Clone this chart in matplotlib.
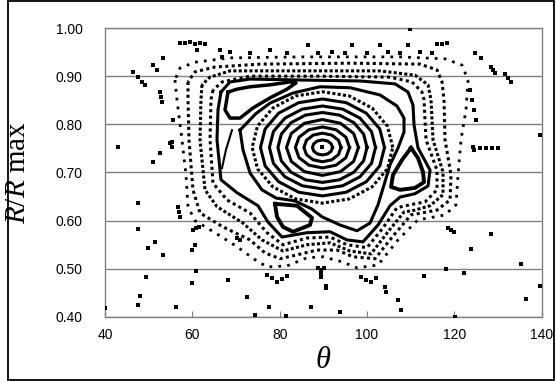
import matplotlib
matplotlib.use("Agg")
import matplotlib.pyplot as plt
from matplotlib.patches import Rectangle

# ---- data: (theta, R/Rmax) ----
centre = (89.8, 0.752)
ring_1 = [(92.1, 0.752), (91.79, 0.7598), (90.95, 0.7655), (89.8, 0.7676), (88.65, 0.7655), (87.81, 0.7598),
          (87.5, 0.752), (87.81, 0.7442), (88.65, 0.7385), (89.8, 0.7364), (90.95, 0.7385), (91.79, 0.7442)]
ring_2 = [(94.04, 0.752), (93.47, 0.7669), (91.92, 0.7777), (89.8, 0.7817), (87.68, 0.7777), (86.13, 0.7669),
          (85.56, 0.752), (86.13, 0.7371), (87.68, 0.7263), (89.8, 0.7223), (91.92, 0.7263), (93.47, 0.7371)]
ring_3 = [(96.0, 0.752), (95.17, 0.7733), (92.9, 0.7888), (89.8, 0.7945), (86.7, 0.7888), (84.43, 0.7733),
          (83.6, 0.752), (84.43, 0.7307), (86.7, 0.7152), (89.8, 0.7095), (92.9, 0.7152), (95.17, 0.7307)]
ring_4 = [(98.04, 0.752), (96.94, 0.781), (93.92, 0.8022), (89.8, 0.81), (85.68, 0.8022), (82.66, 0.781),
          (81.56, 0.752), (82.66, 0.723), (85.68, 0.7018), (89.8, 0.694), (93.92, 0.7018), (96.94, 0.723)]
ring_5 = [(100.0, 0.752), (99.22, 0.7798), (97.01, 0.8033), (93.71, 0.8191), (89.8, 0.8246), (85.89, 0.8191),
          (82.59, 0.8033), (80.38, 0.7798), (79.6, 0.752), (80.38, 0.7242), (82.59, 0.7007), (85.89, 0.6849),
          (89.8, 0.6794), (93.71, 0.6849), (97.01, 0.7007), (99.22, 0.7242)]
ring_6 = [(101.95, 0.752), (101.03, 0.785), (98.39, 0.8129), (94.45, 0.8315), (89.8, 0.8381), (85.15, 0.8315),
          (81.21, 0.8129), (78.57, 0.785), (77.65, 0.752), (78.57, 0.719), (81.21, 0.6911), (85.15, 0.6725),
          (89.8, 0.6659), (94.45, 0.6725), (98.39, 0.6911), (101.03, 0.719)]
ring_7 = [(104.0, 0.752), (102.92, 0.7905), (99.84, 0.8231), (95.24, 0.845), (89.8, 0.8526), (84.36, 0.845),
          (79.76, 0.8231), (76.68, 0.7905), (75.6, 0.752), (76.68, 0.7135), (79.76, 0.6809), (84.36, 0.659),
          (89.8, 0.6514), (95.24, 0.659), (99.84, 0.6809), (102.92, 0.7135)]
ring_8 = [(105.9, 0.752), (104.68, 0.7962), (101.18, 0.8337), (95.96, 0.8588), (89.8, 0.8676), (83.64, 0.8588),
          (78.42, 0.8337), (74.92, 0.7962), (73.7, 0.752), (74.92, 0.7078), (78.42, 0.6703), (83.64, 0.6452),
          (89.8, 0.6364), (95.96, 0.6452), (101.18, 0.6703), (104.68, 0.7078)]
core_edge = [(70.92, 0.788), (71.6, 0.747), (73.21, 0.699), (75.95, 0.664), (79.16, 0.647), (83.51, 0.641),
             (87.4, 0.624), (89.69, 0.608), (93.82, 0.591), (97.71, 0.579), (100.69, 0.595), (102.52, 0.633),
             (103.89, 0.674), (105.27, 0.716), (107.1, 0.751), (108.47, 0.784), (108.47, 0.813), (106.87, 0.838),
             (102.98, 0.861), (96.11, 0.876), (89.24, 0.878), (83.05, 0.865), (77.79, 0.844), (74.53, 0.822)]

island_top = [(68.17, 0.867), (67.48, 0.830), (68.63, 0.813), (70.92, 0.813), (73.89, 0.834), (77.79, 0.855),
              (81.68, 0.873), (83.74, 0.886), (82.37, 0.888), (77.79, 0.882), (73.21, 0.878), (70.23, 0.873)]
island_right = [(110.07, 0.751), (111.68, 0.730), (112.82, 0.701), (113.05, 0.680), (110.99, 0.668),
                (107.56, 0.664), (105.5, 0.670), (105.95, 0.695), (108.01, 0.726)]
island_low = [(78.93, 0.635), (83.97, 0.631), (87.4, 0.606), (86.95, 0.591), (83.05, 0.577), (80.76, 0.587),
              (79.39, 0.608)]
sep_leg = [(69.08, 0.788), (67.7, 0.747), (66.79, 0.709)]

band_1 = [(56.03, 0.892), (56.49, 0.851), (57.63, 0.768), (58.55, 0.695), (59.01, 0.629), (60.61, 0.600),
          (65.19, 0.575), (70.23, 0.546), (74.35, 0.519), (77.1, 0.504), (81.68, 0.506), (86.26, 0.523),
          (89.92, 0.525), (94.5, 0.514), (97.71, 0.502), (102.52, 0.508), (107.1, 0.560), (111.68, 0.602),
          (114.43, 0.606), (117.86, 0.612), (120.38, 0.633), (120.84, 0.695), (121.52, 0.768), (122.67, 0.830),
          (123.13, 0.892), (121.75, 0.923), (117.86, 0.936), (107.56, 0.940), (84.66, 0.940), (68.63, 0.938),
          (60.61, 0.929), (57.18, 0.917)]
band_2 = [(59.01, 0.888), (59.01, 0.851), (59.24, 0.768), (60.15, 0.664), (61.76, 0.616), (67.02, 0.587),
          (73.21, 0.560), (76.64, 0.533), (80.08, 0.521), (83.97, 0.529), (88.55, 0.539), (93.13, 0.539),
          (96.79, 0.525), (101.83, 0.521), (105.95, 0.568), (110.07, 0.612), (112.59, 0.616), (116.03, 0.622),
          (119.01, 0.643), (119.23, 0.695), (117.86, 0.768), (117.63, 0.851), (117.17, 0.888), (116.03, 0.913),
          (112.14, 0.925), (96.11, 0.927), (75.49, 0.925), (65.19, 0.919), (60.61, 0.909)]
band_3 = [(62.21, 0.882), (61.98, 0.851), (61.76, 0.768), (62.9, 0.664), (65.65, 0.629), (71.6, 0.595),
          (75.95, 0.560), (80.76, 0.537), (86.26, 0.550), (91.53, 0.554), (96.11, 0.537), (100.91, 0.531),
          (104.81, 0.577), (108.47, 0.618), (110.99, 0.622), (114.43, 0.631), (117.4, 0.654), (117.4, 0.701),
          (115.11, 0.768), (114.65, 0.851), (113.97, 0.882), (110.99, 0.902), (102.98, 0.911), (84.66, 0.911),
          (68.63, 0.911), (64.05, 0.898)]
band_4 = [(64.73, 0.871), (64.27, 0.851), (64.05, 0.768), (64.73, 0.678), (67.94, 0.643), (73.21, 0.616),
          (77.1, 0.575), (80.76, 0.550), (86.26, 0.564), (91.53, 0.566), (95.42, 0.550), (100.0, 0.544),
          (103.66, 0.585), (106.87, 0.627), (109.85, 0.633), (113.28, 0.639), (116.03, 0.664), (116.03, 0.705),
          (113.51, 0.768), (113.05, 0.851), (112.59, 0.867), (110.3, 0.888), (105.27, 0.898), (89.24, 0.900),
          (73.21, 0.900), (66.79, 0.888)]
band_5 = [(66.56, 0.867), (65.88, 0.830), (65.65, 0.768), (66.56, 0.685), (70.23, 0.658), (75.04, 0.631),
          (77.33, 0.597), (80.53, 0.566), (86.26, 0.575), (91.53, 0.577), (95.42, 0.560), (99.08, 0.556),
          (102.52, 0.591), (105.27, 0.631), (107.56, 0.649), (110.99, 0.656), (113.97, 0.672), (114.43, 0.705),
          (111.68, 0.751), (110.76, 0.799), (110.53, 0.840), (109.39, 0.867), (106.41, 0.884), (98.4, 0.890),
          (84.66, 0.892), (73.21, 0.894), (68.62, 0.888)]

# scattered (chaotic) points
stray_theta = [42.98, 50.99, 52.60, 55.34, 55.34, 46.41, 47.56, 48.47, 49.16, 50.99, 53.28, 51.91,
               57.18, 58.32, 59.46, 60.61, 61.76, 62.90, 61.07, 66.33, 68.63, 66.79, 73.21, 77.79,
               81.68, 86.49, 88.78, 91.98, 94.96, 96.56, 100.00, 102.98, 104.81, 107.56, 109.39, 112.14,
               114.88, 116.03, 117.17, 118.32, 109.85, 124.73, 126.10, 128.39, 128.85, 129.31, 131.60, 132.29,
               132.97, 123.59, 124.04, 124.50, 124.96, 139.62, 124.27, 124.50, 125.87, 127.25, 128.62, 130.00,
               47.56, 47.56, 49.85, 51.45, 53.28, 49.39, 48.02, 47.56, 40.00, 56.26, 59.92, 59.92,
               60.61, 60.84, 68.17, 72.52, 74.35, 77.56, 60.15, 60.84, 61.53, 56.72, 56.95, 57.18,
               87.17, 93.82, 81.45, 90.61, 89.46, 89.46, 89.46, 88.78, 90.15, 90.61, 104.12, 104.35,
               107.10, 107.79, 113.05, 118.09, 122.21, 123.81, 128.39, 135.26, 136.41, 139.62, 120.15, 98.67,
               99.82, 100.91, 102.06, 118.55, 119.23, 119.92, 77.10, 78.24, 79.39, 80.53, 81.68, 70.23,
               70.92, 52.60, 52.82, 53.05, 55.57, 54.88]
stray_r = [0.753, 0.722, 0.741, 0.763, 0.753, 0.909, 0.898, 0.888, 0.882, 0.923, 0.938, 0.913,
           0.969, 0.969, 0.971, 0.967, 0.969, 0.967, 0.954, 0.954, 0.950, 0.940, 0.948, 0.954,
           0.948, 0.965, 0.948, 0.950, 0.948, 0.965, 0.948, 0.965, 0.950, 0.948, 0.965, 0.950,
           0.948, 0.967, 0.967, 0.969, 0.998, 0.948, 0.938, 0.919, 0.913, 0.907, 0.905, 0.896,
           0.888, 0.871, 0.851, 0.830, 0.809, 0.778, 0.753, 0.747, 0.751, 0.751, 0.751, 0.751,
           0.637, 0.583, 0.544, 0.556, 0.529, 0.483, 0.444, 0.425, 0.419, 0.421, 0.471, 0.539,
           0.550, 0.496, 0.477, 0.442, 0.404, 0.421, 0.581, 0.585, 0.587, 0.629, 0.618, 0.608,
           0.421, 0.411, 0.402, 0.465, 0.498, 0.490, 0.483, 0.502, 0.502, 0.460, 0.463, 0.452,
           0.436, 0.415, 0.485, 0.500, 0.492, 0.541, 0.573, 0.510, 0.438, 0.465, 0.400, 0.483,
           0.477, 0.473, 0.481, 0.585, 0.581, 0.577, 0.488, 0.481, 0.473, 0.479, 0.485, 0.564,
           0.560, 0.867, 0.857, 0.846, 0.809, 0.761]

y_ticks = [0.40, 0.50, 0.60, 0.70, 0.80, 0.90, 1.00]
x_ticks = [40, 60, 80, 100, 120, 140]

plt.rcParams["mathtext.fontset"] = "custom"
plt.rcParams["mathtext.rm"] = "Liberation Serif"
plt.rcParams["mathtext.it"] = "Liberation Serif:italic"

fig = plt.figure(figsize=(5.56, 3.81), dpi=100)
ax = fig.add_axes([0.1888, 0.168, 0.7855, 0.7585])

dots = (0, (1.0, 1.1))
sparse = (0, (1.0, 2.2))
dense = (0, (1.0, 0.75))


def draw(pts, style="-", lw=2.2, closed=True):
    if closed:
        pts = pts + pts[:1]
    xs = [p[0] for p in pts]
    ys = [p[1] for p in pts]
    ax.plot(xs, ys, color="black", lw=lw, linestyle=style,
            solid_joinstyle="round", dash_capstyle="butt", zorder=3)


for r in [ring_1, ring_2, ring_3, ring_4, ring_5, ring_6, ring_7]:
    draw(r)
draw(ring_8, dense)
draw(core_edge)
draw(island_top, lw=2.5)
draw(island_right, lw=2.8)
draw(island_low, lw=2.8)
draw(sep_leg, lw=1.5, closed=False)
ax.plot([centre[0]], [centre[1]], "s", color="black", ms=3.5, mew=0, zorder=3)

draw(band_1, sparse, lw=2.0)
draw(band_2, dots)
draw(band_3, dense)
draw(band_4, dots)
draw(band_5, "-")

ax.plot(stray_theta, stray_r, "s", color="black", ms=2.2, mew=0, zorder=3)

ax.set_xlim(40, 140)
ax.set_ylim(0.40, 1.00)
ax.set_xticks(x_ticks)
ax.set_yticks(y_ticks)
ax.set_yticklabels(["%.2f" % v for v in y_ticks])
ax.yaxis.grid(True, color="#808080", lw=1.0)
ax.set_axisbelow(True)
for s in ax.spines.values():
    s.set_color("#808080")
    s.set_linewidth(1.0)
ax.tick_params(axis="x", direction="in", length=4, color="#808080", pad=8, labelsize=10)
ax.tick_params(axis="y", length=0, pad=16, labelsize=10)
for lab in ax.get_xticklabels() + ax.get_yticklabels():
    lab.set_fontfamily("Liberation Sans")

ax.set_xlabel("\u03b8", fontfamily="Liberation Serif", style="italic", fontsize=22)
ax.xaxis.set_label_coords(0.5, -0.10)
ax.set_ylabel("$R/R$ max", fontfamily="Liberation Serif", fontsize=21)
ax.yaxis.set_label_coords(-0.17, 0.5)

fig.patches.append(Rectangle((8 / 556, 1 / 381), 546 / 556, 379 / 381, transform=fig.transFigure,
                             fill=False, ec="black", lw=1.3))

fig.savefig("out.png", dpi=100)
